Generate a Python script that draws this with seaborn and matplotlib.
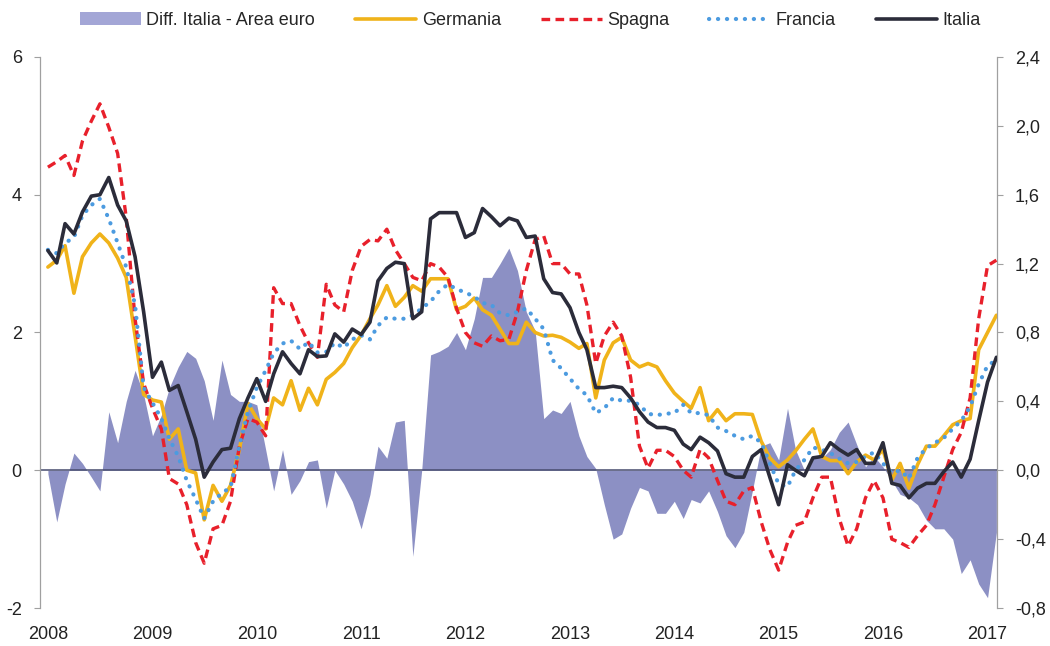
import pandas as pd
import numpy as np
import matplotlib
matplotlib.use("Agg")
import matplotlib.pyplot as plt
import matplotlib.dates as mdates
from matplotlib.patches import Patch
from matplotlib.ticker import FuncFormatter, FixedLocator
import seaborn as sns

# monthly data, Jan 2008 - Feb 2017
dates = pd.date_range("2008-01-01", periods=110, freq="MS")

# right axis: Diff. Italia - Area euro
diff_ita_euro = [
    -0.02, -0.30, -0.08, 0.10, 0.04, -0.04, -0.12, 0.34, 0.16, 0.40,
    0.58, 0.44, 0.20, 0.32, 0.48, 0.60, 0.69, 0.65, 0.52, 0.29,
    0.64, 0.44, 0.40, 0.40, 0.38, 0.12, -0.12, 0.12, -0.14, -0.06,
    0.05, 0.06, -0.22, 0.00, -0.08, -0.18, -0.34, -0.14, 0.14, 0.07,
    0.28, 0.29, -0.50, 0.00, 0.67, 0.69, 0.72, 0.80, 0.70, 0.88,
    1.12, 1.12, 1.20, 1.29, 1.16, 0.92, 0.81, 0.30, 0.35, 0.33,
    0.40, 0.20, 0.08, 0.01, -0.20, -0.40, -0.37, -0.22, -0.10, -0.12,
    -0.25, -0.25, -0.18, -0.28, -0.17, -0.19, -0.12, -0.24, -0.38, -0.45,
    -0.36, -0.12, 0.14, 0.16, 0.06, 0.36, 0.12, 0.00, 0.08, 0.07,
    0.12, 0.22, 0.28, 0.15, 0.02, 0.08, 0.02, -0.06, -0.14, -0.16,
    -0.20, -0.29, -0.34, -0.34, -0.40, -0.60, -0.52, -0.66, -0.74, -0.36,
]

germania = [
    2.95, 3.05, 3.26, 2.57, 3.10, 3.30, 3.43, 3.30, 3.08, 2.80,
    1.95, 1.10, 1.02, 0.99, 0.45, 0.60, 0.00, -0.04, -0.72, -0.22,
    -0.45, -0.22, 0.30, 0.97, 0.75, 0.60, 1.05, 0.95, 1.30, 0.87,
    1.19, 0.95, 1.32, 1.42, 1.55, 1.78, 1.96, 2.20, 2.40, 2.68,
    2.38, 2.51, 2.68, 2.60, 2.78, 2.78, 2.78, 2.33, 2.38, 2.50,
    2.33, 2.25, 2.05, 1.84, 1.84, 2.15, 2.00, 1.95, 1.96, 1.93,
    1.86, 1.77, 1.84, 1.05, 1.60, 1.85, 1.93, 1.60, 1.50, 1.55,
    1.50, 1.30, 1.12, 1.00, 0.90, 1.20, 0.72, 0.88, 0.72, 0.82,
    0.82, 0.81, 0.42, 0.18, 0.05, 0.15, 0.28, 0.45, 0.60, 0.20,
    0.14, 0.14, -0.05, 0.12, 0.22, 0.15, 0.30, -0.14, 0.10, -0.26,
    0.08, 0.35, 0.35, 0.50, 0.66, 0.72, 0.75, 1.75, 2.00, 2.25,
]

spagna = [
    4.40, 4.48, 4.57, 4.28, 4.78, 5.07, 5.32, 4.98, 4.60, 3.67,
    2.20, 1.26, 0.90, 0.60, -0.12, -0.20, -0.50, -1.05, -1.35, -0.85,
    -0.80, -0.45, 0.35, 0.75, 0.70, 0.50, 2.65, 2.42, 2.42, 2.10,
    1.85, 1.64, 2.70, 2.40, 2.30, 2.90, 3.25, 3.35, 3.33, 3.50,
    3.20, 3.00, 2.80, 2.75, 3.00, 2.95, 2.80, 2.35, 2.00, 1.85,
    1.80, 1.95, 1.88, 1.90, 2.30, 2.90, 3.35, 3.40, 3.00, 3.00,
    2.85, 2.85, 2.40, 1.55, 1.95, 2.15, 1.95, 1.35, 0.35, 0.03,
    0.29, 0.29, 0.20, 0.00, -0.10, 0.30, 0.18, -0.15, -0.45, -0.50,
    -0.30, -0.25, -0.75, -1.15, -1.45, -1.05, -0.80, -0.75, -0.40, -0.10,
    -0.10, -0.70, -1.10, -0.85, -0.40, -0.15, -0.40, -1.00, -1.05, -1.12,
    -0.95, -0.80, -0.50, -0.10, 0.30, 0.55, 1.05, 2.20, 2.97, 3.05,
]

francia = [
    3.20, 3.15, 3.30, 3.38, 3.70, 3.85, 3.94, 3.65, 3.30, 2.95,
    2.40, 1.20, 0.98, 0.75, 0.46, 0.20, -0.15, -0.42, -0.70, -0.45,
    -0.33, -0.25, 0.35, 0.85, 1.20, 1.45, 1.70, 1.84, 1.88, 1.76,
    1.86, 1.71, 1.72, 1.85, 1.78, 1.90, 1.96, 1.90, 2.10, 2.22,
    2.20, 2.20, 2.25, 2.35, 2.45, 2.60, 2.70, 2.63, 2.58, 2.52,
    2.43, 2.40, 2.28, 2.25, 2.30, 2.35, 2.20, 2.05, 1.60, 1.48,
    1.33, 1.18, 1.09, 0.83, 0.90, 1.05, 1.01, 1.01, 0.95, 0.82,
    0.80, 0.82, 0.83, 0.95, 0.83, 0.83, 0.80, 0.62, 0.57, 0.50,
    0.45, 0.50, 0.40, 0.10, -0.20, -0.24, 0.00, 0.15, 0.33, 0.30,
    0.25, 0.17, 0.10, 0.12, 0.20, 0.26, 0.10, -0.04, 0.00, -0.12,
    0.18, 0.32, 0.40, 0.47, 0.60, 0.72, 0.92, 1.25, 1.52, 1.60,
]

italia = [
    3.19, 3.01, 3.58, 3.43, 3.75, 3.98, 4.00, 4.25, 3.85, 3.62,
    3.10, 2.30, 1.35, 1.57, 1.16, 1.23, 0.85, 0.45, -0.10, 0.12,
    0.30, 0.32, 0.75, 1.05, 1.33, 1.00, 1.40, 1.72, 1.55, 1.40,
    1.75, 1.65, 1.66, 1.98, 1.86, 2.05, 1.97, 2.15, 2.75, 2.93,
    3.02, 3.00, 2.20, 2.30, 3.65, 3.74, 3.74, 3.74, 3.38, 3.45,
    3.80, 3.68, 3.55, 3.66, 3.62, 3.38, 3.40, 2.78, 2.58, 2.56,
    2.36, 2.00, 1.75, 1.20, 1.20, 1.22, 1.20, 1.05, 0.85, 0.70,
    0.62, 0.62, 0.58, 0.38, 0.30, 0.48, 0.40, 0.28, -0.05, -0.10,
    -0.10, 0.20, 0.30, -0.10, -0.50, 0.08, 0.00, -0.08, 0.18, 0.20,
    0.40, 0.30, 0.22, 0.30, 0.10, 0.10, 0.40, -0.19, -0.22, -0.40,
    -0.26, -0.19, -0.19, -0.02, 0.12, -0.10, 0.16, 0.72, 1.28, 1.64,
]

left_ticks = [-2, 0, 2, 4, 6]
right_ticks = [-0.8, -0.4, 0.0, 0.4, 0.8, 1.2, 1.6, 2.0, 2.4]

df = pd.DataFrame({"data": dates, "diff": diff_ita_euro, "Germania": germania,
                   "Spagna": spagna, "Francia": francia, "Italia": italia})

sns.set_style("white")
plt.rcParams["font.family"] = ["Liberation Sans", "DejaVu Sans"]
plt.rcParams["axes.unicode_minus"] = False

fig = plt.figure(figsize=(10.5, 6.46), dpi=100)
ax2 = fig.add_axes([0.038, 0.0588, 0.9115, 0.853])
ax = ax2.twinx()
ax.set_zorder(ax2.get_zorder() + 1)
ax.patch.set_visible(False)

# area on the right scale
ax2.fill_between(df["data"], 0, df["diff"], color="#8c90c4", lw=0)
ax2.set_ylim(-0.8, 2.4)

# lines on the left scale
ax.axhline(0, color="#474c6e", lw=1.1, zorder=1)
sns.lineplot(data=df, x="data", y="Germania", ax=ax, color="#f0b31a", lw=2.6,
             label="Germania", zorder=3)
sns.lineplot(data=df, x="data", y="Spagna", ax=ax, color="#e8202b", lw=2.4,
             linestyle=(0, (2.6, 1.6)), label="Spagna", zorder=4)
sns.lineplot(data=df, x="data", y="Francia", ax=ax, color="#4c9be0", lw=3.0,
             linestyle=(0, (0.05, 2.1)), dash_capstyle="round", label="Francia", zorder=4)
sns.lineplot(data=df, x="data", y="Italia", ax=ax, color="#2b2c3a", lw=2.6,
             label="Italia", zorder=5)
ax.set_ylim(-2, 6)

# left ticks belong to the line axis, right ticks to the area axis
ax.yaxis.tick_left()
ax2.yaxis.tick_right()
ax.yaxis.set_major_locator(FixedLocator(left_ticks))
ax2.yaxis.set_major_locator(FixedLocator(right_ticks))
ax.yaxis.set_major_formatter(FuncFormatter(lambda v, p: f"{v:g}"))
ax2.yaxis.set_major_formatter(FuncFormatter(lambda v, p: f"{v:.1f}".replace(".", ",")))

for a in (ax, ax2):
    a.set_xlim(pd.Timestamp("2007-12-04"), pd.Timestamp("2017-02-03"))
    a.set_xlabel("")
    a.set_ylabel("")
    for s in ("top", "bottom"):
        a.spines[s].set_visible(False)
    for s in ("left", "right"):
        a.spines[s].set_color("#a0a0a0")
        a.spines[s].set_linewidth(0.9)
    a.tick_params(axis="y", length=4, width=0.8, color="#a0a0a0", labelsize=13,
                  labelcolor="#222222", pad=9)
ax.spines["right"].set_visible(False)
ax2.spines["left"].set_visible(False)

ax2.xaxis.set_major_locator(mdates.YearLocator())
ax2.xaxis.set_major_formatter(mdates.DateFormatter("%Y"))
ax2.tick_params(axis="x", length=0, labelsize=13, labelcolor="#222222", pad=13)
ax.tick_params(axis="x", length=0, labelbottom=False)

# legend across the top
h2, l2 = ax.get_legend_handles_labels()
ax.get_legend().remove()
area_patch = Patch(facecolor="#a3a6d6", edgecolor="none", label="Diff. Italia - Area euro")
fig.legend([area_patch] + h2, ["Diff. Italia - Area euro"] + l2, loc="center",
           bbox_to_anchor=(0.505, 0.968), ncol=5, frameon=False, fontsize=13,
           handlelength=3.4, handleheight=0.75, handletextpad=0.3, columnspacing=2.2)

fig.savefig("out.png", dpi=100, facecolor="white")
